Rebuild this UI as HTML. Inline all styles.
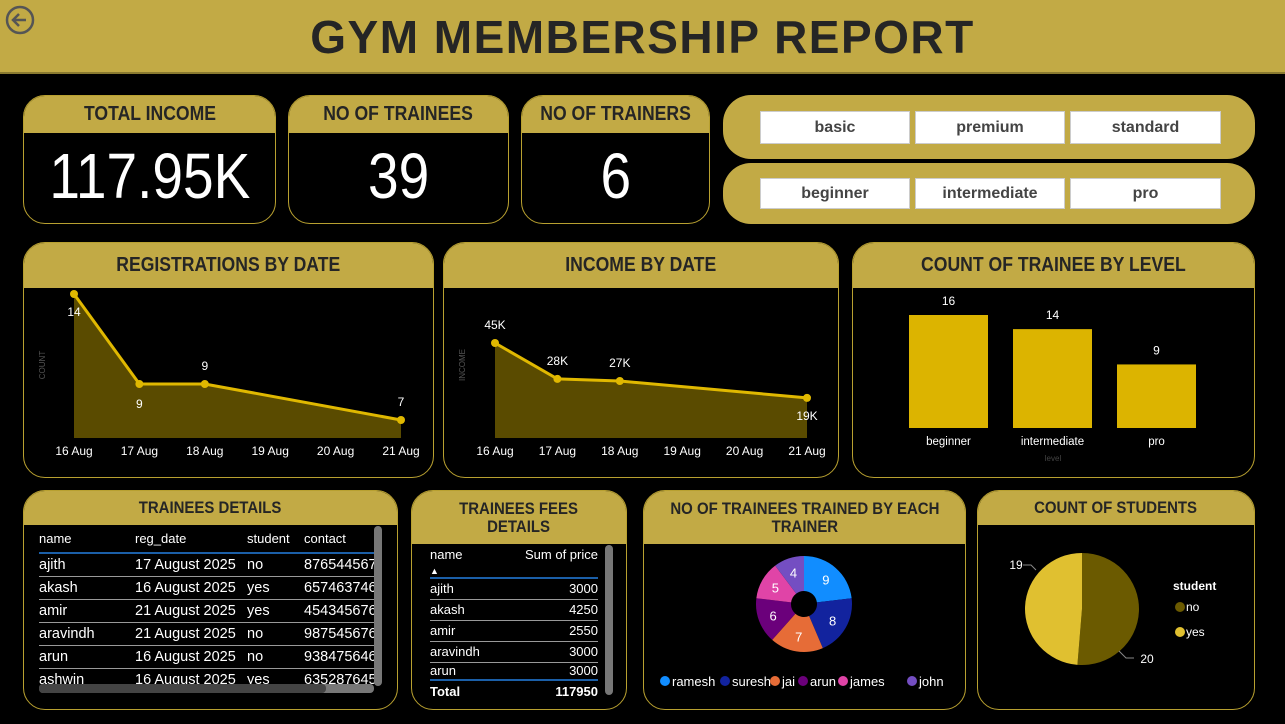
<!DOCTYPE html>
<html><head><meta charset="utf-8">
<style>
*{box-sizing:border-box;margin:0;padding:0}
body{width:1285px;height:724px;background:#000;position:relative;overflow:hidden;font-family:"Liberation Sans",sans-serif;color:#fff}
.abs{position:absolute}
.card{position:absolute;border:1px solid #b8a030;border-radius:22px;overflow:hidden;background:#000}
.hd{background:#c2aa45;color:#252525;font-weight:bold;text-align:center;display:flex;align-items:center;justify-content:center;line-height:1.05}
.hd span{display:inline-block;transform:scaleX(0.88)}
.kv{text-align:center;font-size:64px;color:#fff;padding-top:6px}
.kv span{display:inline-block;transform:scaleX(0.86)}
.slicer{position:absolute;background:#c2aa45;border-radius:28px}
.btn{position:absolute;background:#fff;border:1px solid #ccc;color:#444;font-weight:bold;font-size:16px;text-align:center;line-height:32px}
table{border-collapse:collapse;font-size:14.5px}
td{white-space:nowrap}
svg text{font-family:"Liberation Sans",sans-serif}
</style></head><body>
<div class="abs" style="left:0;top:0;width:1285px;height:74px;background:#c2aa45;border-bottom:2px solid #8a7a30"></div>
<svg class="abs" style="left:4px;top:4px" width="34" height="34"><circle cx="16" cy="16" r="13" fill="none" stroke="#555" stroke-width="2.5"/><path d="M22 16H10M15 10l-6 6 6 6" fill="none" stroke="#555" stroke-width="2.5"/></svg>
<div class="abs" style="left:0;top:10px;width:1285px;text-align:center;font-size:46px;font-weight:900;color:#252525;letter-spacing:1.5px">GYM MEMBERSHIP REPORT</div>

<div class="card" style="left:23px;top:95px;width:253px;height:129px"><div class="hd" style="height:37px;font-size:20px"><span>TOTAL INCOME</span></div><div class="kv"><span>117.95K</span></div></div>
<div class="card" style="left:288px;top:95px;width:221px;height:129px"><div class="hd" style="height:37px;font-size:20px"><span>NO OF TRAINEES</span></div><div class="kv"><span>39</span></div></div>
<div class="card" style="left:521px;top:95px;width:189px;height:129px"><div class="hd" style="height:37px;font-size:20px"><span>NO OF TRAINERS</span></div><div class="kv"><span>6</span></div></div>

<div class="slicer" style="left:723px;top:95px;width:532px;height:64px"></div>
<div class="slicer" style="left:723px;top:163px;width:532px;height:61px"></div>
<div class="btn" style="left:760px;top:111px;width:150px;height:33px">basic</div>
<div class="btn" style="left:915px;top:111px;width:150px;height:33px">premium</div>
<div class="btn" style="left:1070px;top:111px;width:151px;height:33px">standard</div>
<div class="btn" style="left:760px;top:178px;width:150px;height:31px;line-height:30px">beginner</div>
<div class="btn" style="left:915px;top:178px;width:150px;height:31px;line-height:30px">intermediate</div>
<div class="btn" style="left:1070px;top:178px;width:151px;height:31px;line-height:30px">pro</div>

<div class="card" style="left:23px;top:242px;width:411px;height:236px"><div class="hd" style="height:45px;font-size:20px"><span>REGISTRATIONS BY DATE</span></div></div>
<div class="card" style="left:443px;top:242px;width:396px;height:236px"><div class="hd" style="height:45px;font-size:20px"><span>INCOME BY DATE</span></div></div>
<div class="card" style="left:852px;top:242px;width:403px;height:236px"><div class="hd" style="height:45px;font-size:20px"><span>COUNT OF TRAINEE BY LEVEL</span></div></div>

<svg class="abs" id="charts" style="left:0;top:0" width="1285" height="724"></svg>

<div class="card" style="left:23px;top:490px;width:375px;height:220px"><div class="hd" style="height:34px;font-size:17px"><span>TRAINEES DETAILS</span></div>
<div style="position:absolute;left:15px;top:34px;width:340px;height:160px;overflow:hidden">
<table style="width:400px">
<tr style="height:28px;border-bottom:2px solid #1b5fa8;font-size:13px"><td style="width:96px">name</td><td style="width:112px">reg_date</td><td style="width:57px">student</td><td>contact</td></tr>
<tr style="height:23px;border-bottom:1px solid #999"><td>ajith</td><td>17 August 2025</td><td>no</td><td>8765445678</td></tr>
<tr style="height:23px;border-bottom:1px solid #999"><td>akash</td><td>16 August 2025</td><td>yes</td><td>6574637465</td></tr>
<tr style="height:23px;border-bottom:1px solid #999"><td>amir</td><td>21 August 2025</td><td>yes</td><td>4543456767</td></tr>
<tr style="height:23px;border-bottom:1px solid #999"><td>aravindh</td><td>21 August 2025</td><td>no</td><td>9875456767</td></tr>
<tr style="height:23px;border-bottom:1px solid #999"><td>arun</td><td>16 August 2025</td><td>no</td><td>9384756465</td></tr>
<tr style="height:23px"><td>ashwin</td><td>16 August 2025</td><td>yes</td><td>6352876453</td></tr>
</table></div>
<div class="abs" style="left:350px;top:35px;width:8px;height:160px;background:#777;border-radius:4px"></div>
<div class="abs" style="left:15px;top:193px;width:335px;height:9px;background:#777;border-radius:4px"><div style="width:287px;height:9px;background:#444;border-radius:4px"></div></div>
</div>

<div class="card" style="left:411px;top:490px;width:216px;height:220px"><div class="hd" style="height:53px;font-size:17px"><span>TRAINEES FEES<br>DETAILS</span></div>
<div style="position:absolute;left:18px;top:53px;width:180px">
<table style="width:168px;font-size:13px">
<tr style="height:28px;border-bottom:2px solid #1b5fa8;vertical-align:top"><td style="padding-top:3px">name<br><span style="font-size:9px">▲</span></td><td style="text-align:right;padding-top:3px">Sum of price</td></tr>
<tr style="height:21px;border-bottom:1px solid #999"><td>ajith</td><td style="text-align:right">3000</td></tr>
<tr style="height:21px;border-bottom:1px solid #999"><td>akash</td><td style="text-align:right">4250</td></tr>
<tr style="height:21px;border-bottom:1px solid #999"><td>amir</td><td style="text-align:right">2550</td></tr>
<tr style="height:21px;border-bottom:1px solid #999"><td>aravindh</td><td style="text-align:right">3000</td></tr>
<tr style="height:18px;border-bottom:2px solid #1b5fa8"><td>arun</td><td style="text-align:right">3000</td></tr>
<tr style="height:22px;font-weight:bold"><td>Total</td><td style="text-align:right">117950</td></tr>
</table></div>
<div class="abs" style="left:193px;top:54px;width:8px;height:150px;background:#777;border-radius:4px"></div>
</div>

<div class="card" style="left:643px;top:490px;width:323px;height:220px"><div class="hd" style="height:53px;font-size:17px"><span>NO OF TRAINEES TRAINED BY EACH<br>TRAINER</span></div></div>
<div class="card" style="left:977px;top:490px;width:278px;height:220px"><div class="hd" style="height:34px;font-size:17px"><span>COUNT OF STUDENTS</span></div></div>
<svg class="abs" id="charts2" style="left:0;top:0" width="1285" height="724"></svg>

<script>
const dates=["16 Aug","17 Aug","18 Aug","19 Aug","20 Aug","21 Aug"];
const regDates=[0,1,2,5];
const regCounts=[14,9,9,7];
const incDates=[0,1,2,5];
const incValues=[45,28,27,19];
const levels=["beginner","intermediate","pro"];
const levelCounts=[16,14,9];
const trainers=["ramesh","suresh","jai","arun","james","john"];
const trainerCounts=[9,8,7,6,5,4];
const trainerColors=["#118dff","#12239e","#e66c37","#6b007b","#e044a7","#744ec2"];
const studentCats=["no","yes"];
const studentCounts=[20,19];
const studentColors=["#6b5a00","#e0c030"];

const NS="http://www.w3.org/2000/svg";
function mk(p,tag,a,txt){const e=document.createElementNS(NS,tag);for(const k in a)e.setAttribute(k,a[k]);if(txt!==undefined)e.textContent=txt;p.appendChild(e);return e;}
const svg=document.getElementById('charts');
const svg2=document.getElementById('charts2');

function lineChart(x0,x1,base,top,min,max,idx,vals,fmt,labelOff,yTitle,tx,name){
  const sx=i=>x0+(x1-x0)*i/(dates.length-1);
  const sy=v=>base-(v-min)/(max-min)*(base-top);
  const g=mk(svg,'g',{});
  
  
  let pts=idx.map((d,i)=>sx(d)+','+sy(vals[i])).join(' ');
  const area=mk(g,'polygon',{points:sx(idx[0])+','+base+' '+pts+' '+sx(idx[idx.length-1])+','+base,fill:'#5a4b00'});
  
  
  const ln=mk(g,'polyline',{points:pts,fill:'none',stroke:'#e0b800','stroke-width':3});
  
  
  idx.forEach((d,i)=>{
    const c=mk(g,'circle',{cx:sx(d),cy:sy(vals[i]),r:4,fill:'#e0b800'});
    
    
    const t=mk(g,'text',{x:sx(d)+labelOff[i][0],y:sy(vals[i])+labelOff[i][1],'font-size':12,fill:'#fff','text-anchor':'middle'},fmt(vals[i]));
    
    
  });
  dates.forEach((d,i)=>{
    const t=mk(g,'text',{x:sx(i),y:455,'font-size':12,fill:'#fff','text-anchor':'middle'},d);
    
    
  });
  const yt=mk(g,'text',{x:tx,y:365,'font-size':8,fill:'#555','text-anchor':'middle',transform:'rotate(-90 '+tx+' 365)'},yTitle);
  
  
}
lineChart(74,401,438,294,6,14,regDates,regCounts,v=>v,[[0,22],[0,24],[0,-14],[0,-14]],'COUNT',45,'registrations-chart');
lineChart(495,807,438,343,0,45,incDates,incValues,v=>v+'K',[[0,-14],[0,-14],[0,-14],[0,22]],'INCOME',465,'income-chart');

(function(){
  const base=428,scale=113/16;
  const g=mk(svg,'g',{});
  
  
  levels.forEach((l,i)=>{
    const x=909+i*104;
    const h=levelCounts[i]*scale;
    const r=mk(g,'rect',{x:x,y:base-h,width:79,height:h,fill:'#dcb400'});
    
    
    const t=mk(g,'text',{x:x+39.5,y:base-h-10,'font-size':12,fill:'#fff','text-anchor':'middle'},levelCounts[i]);
    
    
    const c=mk(g,'text',{x:x+39.5,y:445,'font-size':11.5,fill:'#fff','text-anchor':'middle'},l);
    
    
  });
  const xt=mk(g,'text',{x:1053,y:461,'font-size':8,fill:'#444','text-anchor':'middle'},'level');
  
  
})();

(function(){
  const cx=804,cy=604,R=48,r=13;
  const tot=trainerCounts.reduce((a,b)=>a+b,0);
  let a0=-Math.PI/2;
  const g=mk(svg2,'g',{});
  
  
  trainerCounts.forEach((v,i)=>{
    const a1=a0+v/tot*2*Math.PI;
    const p=(a,rr)=>[cx+rr*Math.cos(a),cy+rr*Math.sin(a)];
    const [x1,y1]=p(a0,R),[x2,y2]=p(a1,R),[x3,y3]=p(a1,r),[x4,y4]=p(a0,r);
    const lg=(a1-a0)>Math.PI?1:0;
    const s=mk(g,'path',{d:`M${x1},${y1}A${R},${R} 0 ${lg} 1 ${x2},${y2}L${x3},${y3}A${r},${r} 0 ${lg} 0 ${x4},${y4}Z`,fill:trainerColors[i]});
    
    
    const am=(a0+a1)/2;const [lx,ly]=p(am,33);
    const t=mk(g,'text',{x:lx,y:ly+5,'font-size':13,fill:'#fff','text-anchor':'middle'},v);
    
    
    a0=a1;
  });
  const lx=[665,725,775,803,843,912];
  trainers.forEach((n,i)=>{
    const c=mk(g,'circle',{cx:lx[i],cy:681,r:5,fill:trainerColors[i]});
    
    
    const t=mk(g,'text',{x:lx[i]+7,y:686,'font-size':13,fill:'#fff'},n);
    
    
  });
})();

(function(){
  const cx=1082,cy=609,rx=57,ry=56;
  const tot=studentCounts.reduce((a,b)=>a+b,0);
  let a0=-Math.PI/2;
  const g=mk(svg2,'g',{});
  
  
  studentCounts.forEach((v,i)=>{
    const a1=a0+v/tot*2*Math.PI;
    const lg=(a1-a0)>Math.PI?1:0;
    const s=mk(g,'path',{d:`M${cx},${cy}L${cx+rx*Math.cos(a0)},${cy+ry*Math.sin(a0)}A${rx},${ry} 0 ${lg} 1 ${cx+rx*Math.cos(a1)},${cy+ry*Math.sin(a1)}Z`,fill:studentColors[i]});
    
    
    a0=a1;
  });
  mk(g,'path',{d:'M1119,651 l7,7 h8',stroke:'#888',fill:'none'});
  mk(g,'path',{d:'M1036,570 l-5,-5 h-8',stroke:'#888',fill:'none'});
  const t1=mk(g,'text',{x:1147,y:663,'font-size':12,fill:'#fff','text-anchor':'middle'},studentCounts[0]);
  
  
  const t2=mk(g,'text',{x:1016,y:569,'font-size':12,fill:'#fff','text-anchor':'middle'},studentCounts[1]);
  
  
  const lt=mk(g,'text',{x:1173,y:590,'font-size':12,'font-weight':'bold',fill:'#fff'},'student');
  
  
  studentCats.forEach((c,i)=>{
    const m=mk(g,'circle',{cx:1180,cy:607+i*25,r:5,fill:studentColors[i]});
    
    
    const t=mk(g,'text',{x:1186,y:611+i*25,'font-size':12,fill:'#fff'},c);
    
    
  });
})();
</script>
</body></html>
